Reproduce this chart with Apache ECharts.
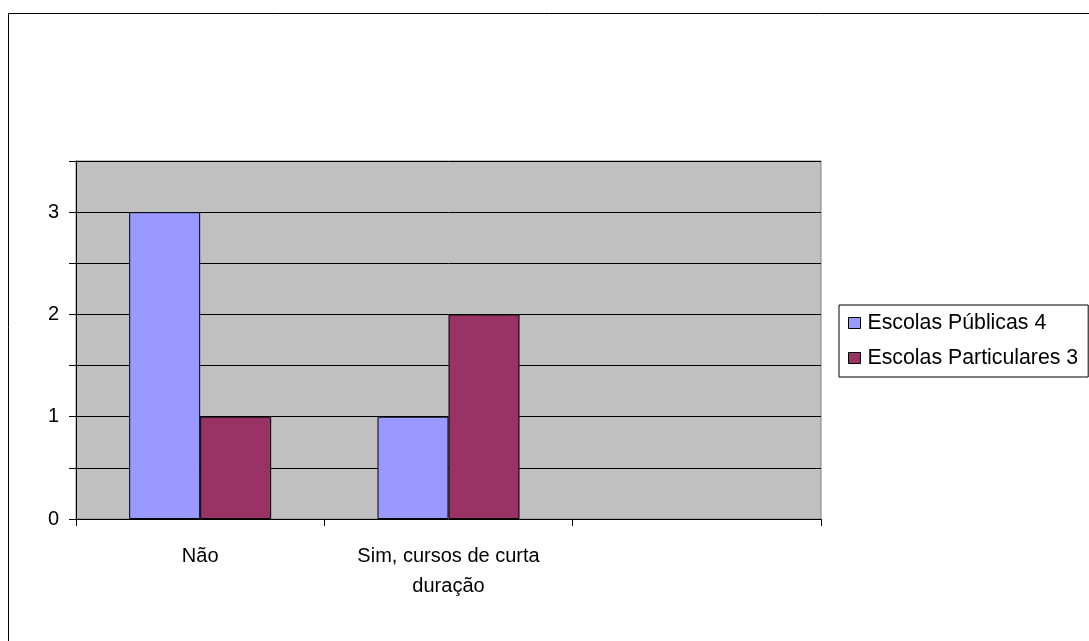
<!DOCTYPE html>
<html><head><meta charset="utf-8">
<script src="https://cdn.jsdelivr.net/npm/echarts@6/dist/echarts.min.js"></script>
<style>html,body{margin:0;padding:0;background:#fff}#c{width:1089px;height:641px}</style>
</head><body><div id="c"></div>
<script>
const categories = ['Não', 'Sim, cursos de curta\nduração', ''];
const publicas = [3, 1, null];
const particulares = [1, 2, null];
const seriesNames = ['Escolas Públicas 4', 'Escolas Particulares 3'];
const yTicks = [0, 1, 2, 3];

const FONT = 'Liberation Sans, Arial, sans-serif';
const chart = echarts.init(document.getElementById('c'), null, {renderer: 'canvas'});
chart.setOption({
  animation: false,
  backgroundColor: '#fff',
  graphic: [{
    type: 'rect', shape: {x: 8.5, y: 13.5, width: 1200, height: 800},
    style: {fill: 'none', stroke: '#000', lineWidth: 1}, silent: true, z: 0
  }],
  grid: {left: 76, right: 268, top: 161, bottom: 122, show: true,
    backgroundColor: '#C0C0C0', borderColor: '#808080', borderWidth: 1},
  legend: {
    orient: 'vertical', left: 839, top: 305,
    data: seriesNames,
    icon: 'rect', itemWidth: 12, itemHeight: 11, itemGap: 11,
    padding: [6, 10, 7, 9],
    borderColor: '#000', borderWidth: 1, backgroundColor: '#fff',
    textStyle: {fontFamily: FONT, fontSize: 21.3, color: '#000', lineHeight: 24, padding: [0,0,0,2]},
    itemStyle: {borderColor: '#000', borderWidth: 1}
  },
  xAxis: {
    type: 'category', data: categories, boundaryGap: true,
    axisLine: {lineStyle: {color: '#000', width: 1}},
    axisTick: {show: true, length: 7, inside: false, alignWithLabel: false, lineStyle: {color: '#000'}},
    axisLabel: {fontFamily: FONT, fontSize: 20, color: '#000', margin: 22, lineHeight: 30, interval: 0},
    splitLine: {show: false}
  },
  yAxis: {
    type: 'value', min: 0, max: 3.5, interval: 0.5,
    axisLine: {show: true, lineStyle: {color: '#000', width: 1}},
    axisTick: {show: true, length: 7, lineStyle: {color: '#000'}},
    axisLabel: {fontFamily: FONT, fontSize: 20, color: '#000', margin: 17,
      formatter: v => (yTicks.indexOf(v) >= 0 ? String(v) : '')},
    splitLine: {show: true, lineStyle: {color: '#000', width: 1}}
  },
  series: [
    {name: seriesNames[0], type: 'bar', data: publicas, barWidth: 71, barGap: '0%',
      itemStyle: {color: '#9999FF', borderColor: '#000', borderWidth: 1}},
    {name: seriesNames[1], type: 'bar', data: particulares, barWidth: 71, barGap: '0%',
      itemStyle: {color: '#993366', borderColor: '#000', borderWidth: 1}}
  ]
});
</script></body></html>
